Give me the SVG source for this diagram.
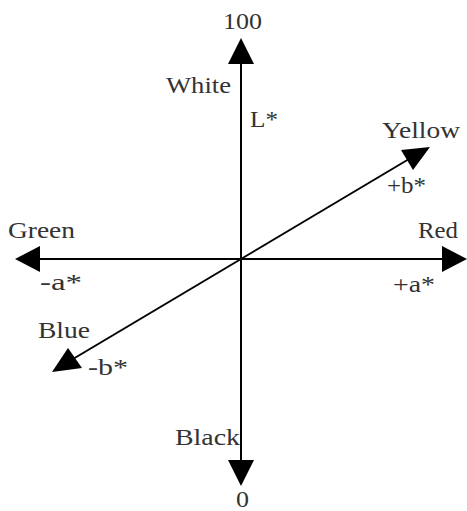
<svg xmlns="http://www.w3.org/2000/svg" width="467" height="511" viewBox="0 0 467 511">
<style>
.t{font-family:"Liberation Serif","DejaVu Serif",serif;font-size:24px;fill:#333}
.ax{stroke:#000;stroke-width:2;fill:none}
.hd{fill:#000}
</style>
<rect width="467" height="511" fill="#fff"/>
<g id="connectors">
<line class="ax" x1="241" y1="60" x2="241" y2="464"/>
<line class="ax" x1="36" y1="259" x2="446" y2="259"/>
<line class="ax" x1="409" y1="159" x2="73" y2="359"/>
<polygon class="hd" points="241,38 228,64 254,64"/>
<polygon class="hd" points="241,486 228,460 254,460"/>
<polygon class="hd" points="15,259 40,246 40,272"/>
<polygon class="hd" points="467,259 442,246 442,272"/>
<polygon class="hd" points="430,147 401,150 413,170"/>
<polygon class="hd" points="52,372 68,348 82,368"/>
</g>
<g id="L100"><text class="t" x="223" y="29" textLength="39" lengthAdjust="spacingAndGlyphs">100</text></g>
<g id="White"><text class="t" x="166" y="93" textLength="65" lengthAdjust="spacingAndGlyphs">White</text></g>
<g id="Lstar"><text class="t" x="250" y="127" textLength="28" lengthAdjust="spacingAndGlyphs">L*</text></g>
<g id="Yellow"><text class="t" x="382" y="138" textLength="78" lengthAdjust="spacingAndGlyphs">Yellow</text></g>
<g id="pb"><text class="t" x="387" y="193" textLength="39" lengthAdjust="spacingAndGlyphs">+b*</text></g>
<g id="Green"><text class="t" x="8" y="238" textLength="67" lengthAdjust="spacingAndGlyphs">Green</text></g>
<g id="Red"><text class="t" x="418" y="238" textLength="40" lengthAdjust="spacingAndGlyphs">Red</text></g>
<g id="ma"><text class="t" x="40" y="290" textLength="42" lengthAdjust="spacingAndGlyphs">-a*</text></g>
<g id="pa"><text class="t" x="393" y="292" textLength="42" lengthAdjust="spacingAndGlyphs">+a*</text></g>
<g id="Blue"><text class="t" x="38" y="338" textLength="52" lengthAdjust="spacingAndGlyphs">Blue</text></g>
<g id="mb"><text class="t" x="88" y="375" textLength="40" lengthAdjust="spacingAndGlyphs">-b*</text></g>
<g id="Black"><text class="t" x="175" y="445" textLength="65" lengthAdjust="spacingAndGlyphs">Black</text></g>
<g id="L0"><text class="t" x="236" y="507" textLength="13" lengthAdjust="spacingAndGlyphs">0</text></g>
</svg>
